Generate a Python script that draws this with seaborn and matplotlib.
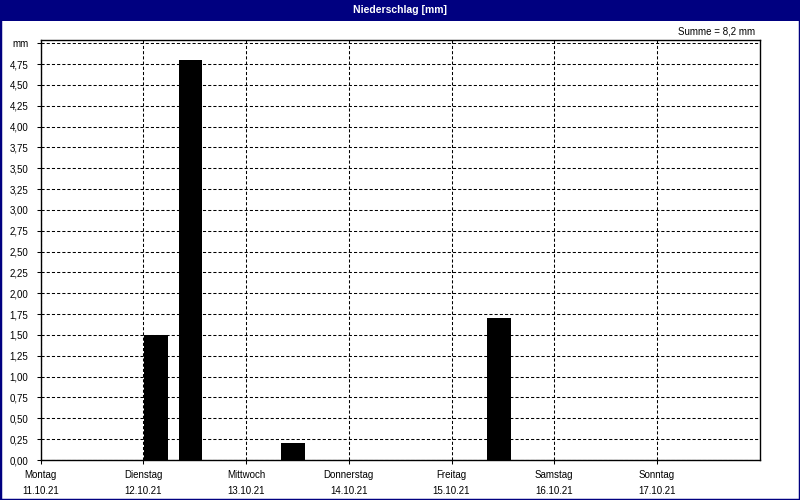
import matplotlib
matplotlib.use("Agg")
import matplotlib.pyplot as plt
from matplotlib.patches import Rectangle
import seaborn as sns
import pandas as pd
import numpy as np

# ---- data ----
days = ["Montag", "Dienstag", "Mittwoch", "Donnerstag", "Freitag", "Samstag", "Sonntag"]
dates = ["11.10.21", "12.10.21", "13.10.21", "14.10.21", "15.10.21", "16.10.21", "17.10.21"]
hours = [27, 35, 59, 107]          # hours since Monday 00:00
rain_mm = [1.5, 4.8, 0.2, 1.7]
y_tick_values = [0.25 * i for i in range(21)]
total_label = "Summe = 8,2 mm"
title = "Niederschlag [mm]"

sns.set_theme(style="white")
plt.rcParams['font.family'] = ['Liberation Sans', 'DejaVu Sans']

W, H = 800, 500
fig = plt.figure(figsize=(8, 5), dpi=100, facecolor="white")
ax = fig.add_axes([40.7 / W, 40 / H, 719 / W, 419.7 / H])
ax.set_facecolor("white")

df = pd.DataFrame({"h": hours, "mm": rain_mm})
sns.barplot(data=df, x="h", y="mm", native_scale=True, color="black",
            saturation=1, width=0.7, linewidth=0, errorbar=None, ax=ax, zorder=3)

ax.set_xlim(0, 168)
ax.set_ylim(0, 5.036)

ax.set_xticks([24 * i for i in range(len(days))])
ax.set_xticklabels([f"{d}\n{dt}" for d, dt in zip(days, dates)])
for lbl in ax.get_xticklabels():
    lbl.set_linespacing(1.75)

ylabels = [f"{v:.2f}".replace(".", ",") for v in y_tick_values[:-1]] + ["mm"]
ax.set_yticks(y_tick_values)
ax.set_yticklabels(ylabels)

ax.grid(True, color="black", linestyle=(0, (3, 2)), linewidth=0.75)
ax.set_axisbelow(True)
ax.set_xlabel("")
ax.set_ylabel("")

for s in ax.spines.values():
    s.set_visible(True)
    s.set_color("black")
    s.set_linewidth(1.0)

ax.tick_params(axis="both", direction="out", length=3, width=0.75, color="black",
               labelsize=7, labelcolor="black", bottom=True, left=True)
ax.tick_params(axis="y", pad=6)
ax.tick_params(axis="x", pad=4)

# title bar
fig.patches.append(Rectangle((0, 1 - 20.5 / H), 1, 20.5 / H, transform=fig.transFigure,
                             facecolor="#000080", edgecolor="none", zorder=0))
fig.text(0.5, 1 - 10 / H, title, color="white", fontweight="bold",
         ha="center", va="center", fontsize=7.5)
# outer border
fig.patches.append(Rectangle((0, 0), 1, 1, transform=fig.transFigure, fill=False,
                             edgecolor="#000080", linewidth=2.5, zorder=5))

fig.text(755 / W, 1 - 31 / H, total_label, ha="right", va="center", fontsize=7, color="black")

fig.savefig("out.png", dpi=100, facecolor="white")
